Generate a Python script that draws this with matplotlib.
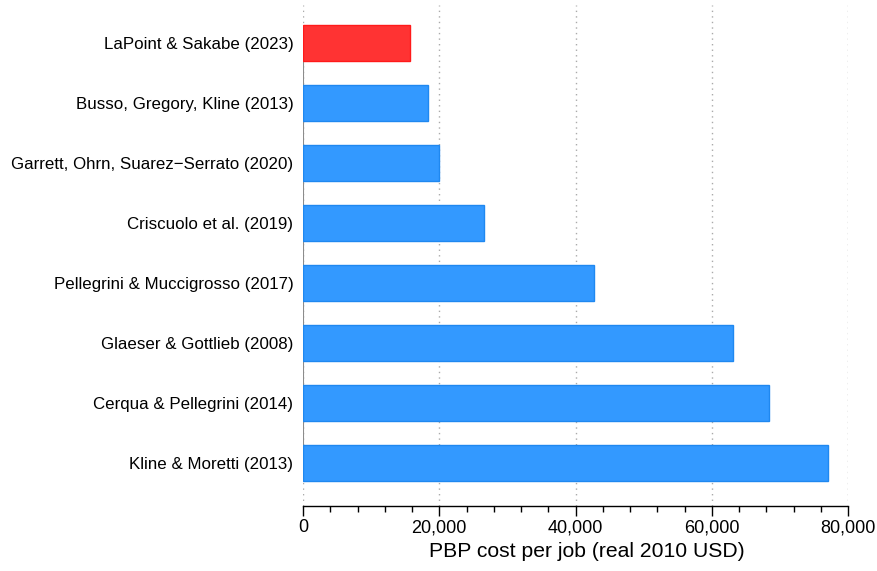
import matplotlib.pyplot as plt
from matplotlib.ticker import FuncFormatter, MultipleLocator

plt.rcParams['font.family'] = ['Liberation Sans', 'DejaVu Sans']

# Studies, bottom to top
studies = ['Kline & Moretti (2013)', 'Cerqua & Pellegrini (2014)',
           'Glaeser & Gottlieb (2008)', 'Pellegrini & Muccigrosso (2017)',
           'Criscuolo et al. (2019)', 'Garrett, Ohrn, Suarez\u2212Serrato (2020)',
           'Busso, Gregory, Kline (2013)', 'LaPoint & Sakabe (2023)']
cost = [77100, 68400, 63100, 42700, 26600, 20000, 18300, 15700]
highlight = 'LaPoint & Sakabe (2023)'

face = ['#ff3333' if s == highlight else '#3399ff' for s in studies]
edge = ['#ff1a1a' if s == highlight else '#1f88f0' for s in studies]

fig = plt.figure(figsize=(8.77, 5.71), dpi=100)
ax = fig.add_axes([303 / 877, 1 - 506 / 571, 545 / 877, 501 / 571])

pos = list(range(len(studies)))
ax.barh(pos, cost, height=0.6, color=face, edgecolor=edge, linewidth=1, zorder=3)
ax.vlines(0, pos[0], pos[-1], color='#8c8c8c', linewidth=1.5, zorder=2)

ax.set_xlim(0, 80000)
ax.set_ylim(-0.72, 7.63)
ax.set_yticks(pos)
ax.set_yticklabels(studies, fontsize=12.2)
ax.tick_params(axis='y', length=0, pad=7)

ax.xaxis.set_major_locator(MultipleLocator(20000))
ax.xaxis.set_minor_locator(MultipleLocator(4000))
ax.xaxis.set_major_formatter(FuncFormatter(lambda v, p: f'{v:,.0f}'))
ax.tick_params(axis='x', which='major', length=7, width=1, labelsize=13, pad=2.5)
ax.tick_params(axis='x', which='minor', length=4, width=1)
ax.grid(axis='x', linestyle=(0, (1, 3)), color='#aaaaaa', linewidth=1, zorder=0)

for s in ['top', 'right', 'left']:
    ax.spines[s].set_visible(False)
ax.spines['bottom'].set_linewidth(1)

ax.set_xlabel('PBP cost per job (real 2010 USD)', fontsize=15.2)
ax.xaxis.set_label_coords(0.52, -0.072)

fig.savefig('out.png', dpi=100)
